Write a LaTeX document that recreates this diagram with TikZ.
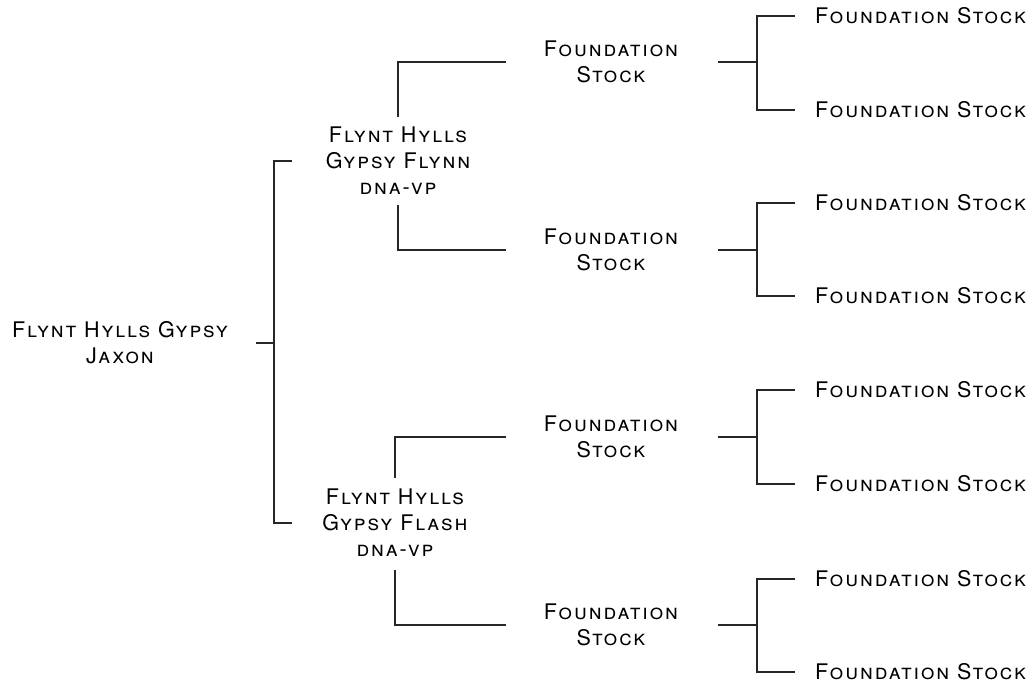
\documentclass[tikz,border=0pt]{standalone}
\usepackage{fontspec}
\setmainfont{TeX Gyre Heros}[LetterSpace=9]
\usetikzlibrary{positioning}
\tikzstyle{horse}=[inner sep=0pt, align=center, font=\fontsize{21.5}{26}\selectfont\scshape]
\tikzstyle{leaf}=[horse, anchor=west]
\tikzstyle{link}=[draw=black!85, line width=1.2pt]
\tikzset{every picture/.style={
    x=1pt, y=-1pt
  }
}
\begin{document}
\begin{tikzpicture}
      \useasboundingbox (0,0) rectangle (1033,686);
      % horses
      \node[horse] at (120,343) (jaxon) {Flynt Hylls Gypsy\\Jaxon};
      \node[horse] at (398,161) (flynn) {Flynt Hylls\\Gypsy Flynn\\dna-vp};
      \node[horse] at (395,523) (flash) {Flynt Hylls\\Gypsy Flash\\dna-vp};
      \node[horse] at (611,62) (fs1) {Foundation\\Stock};
      \node[horse] at (611,250) (fs2) {Foundation\\Stock};
      \node[horse] at (611,437) (fs3) {Foundation\\Stock};
      \node[horse] at (611,625) (fs4) {Foundation\\Stock};
      \node[leaf] at (815,16) (g1) {Foundation Stock};
      \node[leaf] at (815,110) (g2) {Foundation Stock};
      \node[leaf] at (815,203) (g3) {Foundation Stock};
      \node[leaf] at (815,296) (g4) {Foundation Stock};
      \node[leaf] at (815,390) (g5) {Foundation Stock};
      \node[leaf] at (815,484) (g6) {Foundation Stock};
      \node[leaf] at (815,579) (g7) {Foundation Stock};
      \node[leaf] at (815,672) (g8) {Foundation Stock};
      % branch points
      \coordinate (kj) at (274,343);
      \coordinate (k1) at (757,62);
      \coordinate (k2) at (757,250);
      \coordinate (k3) at (757,437);
      \coordinate (k4) at (757,625);
      % lines
      \draw[link] ([xshift=-18]kj) -- (kj);
      \draw[link] ([xshift=18]kj |- flynn) -| (kj) |- ([xshift=18]kj |- flash);
      \draw[link] ([yshift=44]flynn.center) |- ([xshift=-105]fs1.center);
      \draw[link] ([yshift=-44]flynn.center) |- ([xshift=-105]fs2.center);
      \draw[link] ([yshift=45]flash.center) |- ([xshift=-105]fs3.center);
      \draw[link] ([yshift=-47]flash.center) |- ([xshift=-105]fs4.center);
      \foreach \k/\a/\b in {k1/g1/g2, k2/g3/g4, k3/g5/g6, k4/g7/g8}{
        \draw[link] ([xshift=-39]\k) -- (\k);
        \draw[link] ([xshift=-20]\a.west) -| (\k) |- ([xshift=-20]\b.west);
      }
\end{tikzpicture}
\end{document}
